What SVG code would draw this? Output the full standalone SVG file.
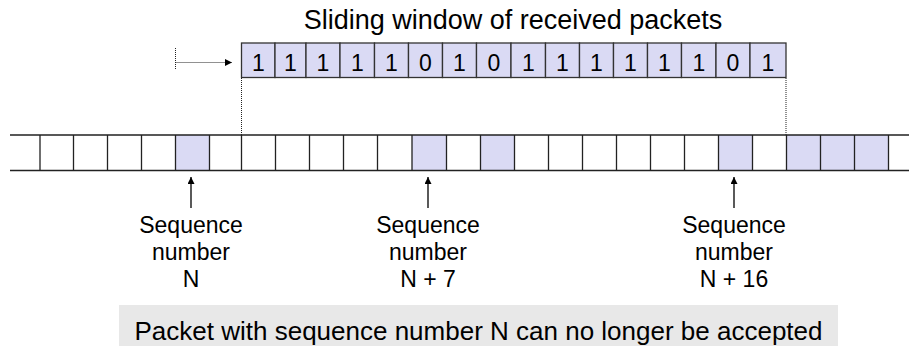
<svg xmlns="http://www.w3.org/2000/svg" width="909" height="346" viewBox="0 0 909 346">
<style>
text{font-family:"Liberation Sans",Arial,sans-serif;fill:#000}
.title{font-size:27px}
.bit{font-size:23px;text-anchor:middle}
.lbl{font-size:23px;text-anchor:middle}
.note{font-size:26px;text-anchor:middle}
.cell{fill:#dadaf4;stroke:#333;stroke-width:1.3}
.line{stroke:#222;stroke-width:1.3;fill:none}
.hl{fill:#dadaf4}
.dot{stroke:#222;stroke-width:1;stroke-dasharray:1 1;fill:none}
.arr{stroke:#000;stroke-width:1.3;fill:none}
</style>
<defs>
<marker id="ah" viewBox="0 0 10 10" refX="10" refY="5" markerWidth="10" markerHeight="7" markerUnits="userSpaceOnUse" orient="auto"><path d="M0,0 L10,5 L0,10 Z" fill="#000"/></marker>
<marker id="ahUp" viewBox="0 0 10 10" refX="10" refY="5" markerWidth="8" markerHeight="7" markerUnits="userSpaceOnUse" orient="auto"><path d="M0,0 L10,5 L0,10 Z" fill="#000"/></marker>
</defs>
<rect width="909" height="346" fill="#fff"/>
<text id="title" class="title" x="513" y="29" text-anchor="middle">Sliding window of received packets</text>
<g id="window">
<rect class="cell" x="241.5" y="43" width="33.5" height="34.5"/>
<rect class="cell" x="275" y="43" width="31" height="34.5"/>
<rect class="cell" x="306" y="43" width="34" height="34.5"/>
<rect class="cell" x="340" y="43" width="34.5" height="34.5"/>
<rect class="cell" x="374.5" y="43" width="34" height="34.5"/>
<rect class="cell" x="408.5" y="43" width="34" height="34.5"/>
<rect class="cell" x="442.5" y="43" width="34" height="34.5"/>
<rect class="cell" x="476.5" y="43" width="34.5" height="34.5"/>
<rect class="cell" x="511" y="43" width="34.5" height="34.5"/>
<rect class="cell" x="545.5" y="43" width="34" height="34.5"/>
<rect class="cell" x="579.5" y="43" width="34" height="34.5"/>
<rect class="cell" x="613.5" y="43" width="34" height="34.5"/>
<rect class="cell" x="647.5" y="43" width="34" height="34.5"/>
<rect class="cell" x="681.5" y="43" width="34.5" height="34.5"/>
<rect class="cell" x="716" y="43" width="34" height="34.5"/>
<rect class="cell" x="750" y="43" width="36" height="34.5"/>
<text class="bit" x="258.3" y="71">1</text>
<text class="bit" x="290.5" y="71">1</text>
<text class="bit" x="323" y="71">1</text>
<text class="bit" x="357.3" y="71">1</text>
<text class="bit" x="391.5" y="71">1</text>
<text class="bit" x="425.5" y="71">0</text>
<text class="bit" x="459.5" y="71">1</text>
<text class="bit" x="493.8" y="71">0</text>
<text class="bit" x="528.3" y="71">1</text>
<text class="bit" x="562.5" y="71">1</text>
<text class="bit" x="596.5" y="71">1</text>
<text class="bit" x="630.5" y="71">1</text>
<text class="bit" x="664.5" y="71">1</text>
<text class="bit" x="698.8" y="71">1</text>
<text class="bit" x="733" y="71">0</text>
<text class="bit" x="768" y="71">1</text>
</g>
<g id="sequence-row">
<rect class="hl" x="175.5" y="135" width="34" height="35.5"/>
<rect class="hl" x="412" y="135" width="34.5" height="35.5"/>
<rect class="hl" x="480.5" y="135" width="34" height="35.5"/>
<rect class="hl" x="718.5" y="135" width="34" height="35.5"/>
<rect class="hl" x="786.5" y="135" width="102" height="35.5"/>
<path class="line" d="M10,135 H909 M10,170.5 H909"/>
<path class="line" d="M40,135 V170.5 M73.5,135 V170.5 M107.5,135 V170.5 M141.5,135 V170.5 M175.5,135 V170.5 M209.5,135 V170.5 M241.5,135 V170.5 M275.5,135 V170.5 M309.5,135 V170.5 M343.5,135 V170.5 M377.5,135 V170.5 M412,135 V170.5 M446.5,135 V170.5 M480.5,135 V170.5 M514.5,135 V170.5 M548.5,135 V170.5 M582.5,135 V170.5 M616.5,135 V170.5 M650.5,135 V170.5 M684.5,135 V170.5 M718.5,135 V170.5 M752.5,135 V170.5 M786.5,135 V170.5 M820.5,135 V170.5 M854.5,135 V170.5 M888.5,135 V170.5"/>
</g>
<g id="label-n">
<text class="lbl" x="191" y="233">Sequence</text>
<text class="lbl" x="191" y="260">number</text>
<text class="lbl" x="191" y="287">N</text>
</g>
<g id="label-n7">
<text class="lbl" x="428" y="233">Sequence</text>
<text class="lbl" x="428" y="260">number</text>
<text class="lbl" x="428" y="287">N + 7</text>
</g>
<g id="label-n16">
<text class="lbl" x="734" y="233">Sequence</text>
<text class="lbl" x="734" y="260">number</text>
<text class="lbl" x="734" y="287">N + 16</text>
</g>
<g id="note">
<rect x="119" y="305" width="719" height="41" fill="#e8e8e8"/>
<text class="note" x="478.5" y="340">Packet with sequence number N can no longer be accepted</text>
</g>
<g id="connectors">
<path class="dot" d="M175.5,48 V70"/>
<path class="dot" d="M175.5,62.5 H232" marker-end="url(#ah)"/>
<path class="dot" d="M241.5,78 V135"/>
<path class="dot" d="M786,78 V135"/>
<path class="arr" d="M191,208 V177" marker-end="url(#ahUp)"/>
<path class="arr" d="M428,208 V177" marker-end="url(#ahUp)"/>
<path class="arr" d="M734,208 V177" marker-end="url(#ahUp)"/>
</g>
</svg>
